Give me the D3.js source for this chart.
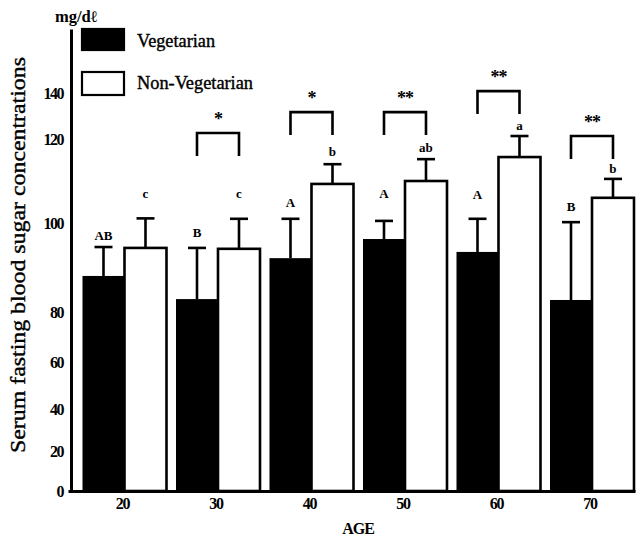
<!DOCTYPE html>
<html>
<head>
<meta charset="utf-8">
<script src="https://cdn.jsdelivr.net/npm/d3@7"></script>
<style>
  body { margin: 0; background: #fff; }
  svg { display: block; }
  text { font-family: "Liberation Serif", "Times New Roman", serif; fill: #000; }
</style>
</head>
<body>
<svg id="chart" width="638" height="539"></svg>
<script>
// Serum fasting blood sugar (mg/dl) by age group, mean + SD
const ages = ["20", "30", "40", "50", "60", "70"];
const groups = ["Vegetarian", "Non-Vegetarian"];
const vegMean = [88.1, 82.9, 92.1, 96.4, 93.5, 82.7];
const vegSD = [6.5, 11.5, 8.9, 4.1, 7.5, 17.5];
const nonVegMean = [94.4, 94.2, 109.3, 110.0, 115.7, 106.0];
const nonVegSD = [6.7, 6.8, 4.7, 5.2, 5.6, 4.5];
// Duncan grouping letters and the level (mg/dl) at which they are written
const vegLetters = ["AB", "B", "A", "A", "A", "B"];
const nonVegLetters = ["c", "c", "b", "ab", "a", "b"];
const vegLetterLevel = [97.3, 97.8, 104.8, 107.1, 106.9, 104.0];
const nonVegLetterLevel = [107.1, 107.1, 117.1, 117.9, 126.1, 112.9];
// Significance between diets within each age group
const sigMarks = ["", "*", "*", "**", "**", "**"];
const sigLevel = [null, 122.6, 131.7, 131.7, 140.9, 121.3];
const yTicks = [0, 20, 40, 60, 80, 100, 120, 140];

const svg = d3.select("#chart");

// The printed axis is not evenly spaced, so the scale is piecewise
const y = d3.scaleLinear()
  .domain([0, 20, 40, 60, 80, 100, 120, 140, 170])
  .range([491, 451, 409, 362, 312, 223, 139, 93, 29]);

const x = d3.scaleBand()
  .domain(ages)
  .range([68, 635])
  .paddingInner(0.1016)
  .paddingOuter(0.0829)
  .align(0.935);

const xs = d3.scaleBand().domain(groups).range([0, x.bandwidth()]);

const rows = ages.map((a, i) => ({
  age: a,
  bars: [
    { key: groups[0], mean: vegMean[i], sd: vegSD[i], letter: vegLetters[i], lv: vegLetterLevel[i] },
    { key: groups[1], mean: nonVegMean[i], sd: nonVegSD[i], letter: nonVegLetters[i], lv: nonVegLetterLevel[i] }
  ],
  sig: sigMarks[i],
  sigLv: sigLevel[i]
}));

const g = svg.append("g");

// bars
const grp = g.selectAll("g.age").data(rows).join("g")
  .attr("class", "age")
  .attr("transform", d => `translate(${x(d.age)},0)`);

grp.selectAll("rect.bar").data(d => d.bars).join("rect")
  .attr("class", "bar")
  .attr("x", d => xs(d.key))
  .attr("y", d => y(d.mean))
  .attr("width", xs.bandwidth())
  .attr("height", d => y(0) - y(d.mean))
  .attr("fill", d => d.key === groups[0] ? "#000" : "#fff")
  .attr("stroke", d => d.key === groups[0] ? "none" : "#000")
  .attr("stroke-width", 2.6);

// error bars (upper half)
grp.selectAll("g.err").data(d => d.bars).join("g")
  .attr("class", "err")
  .each(function (d) {
    const cx = xs(d.key) + xs.bandwidth() / 2;
    const s = d3.select(this);
    s.append("line")
      .attr("x1", cx).attr("x2", cx)
      .attr("y1", y(d.mean)).attr("y2", y(d.mean + d.sd))
      .attr("stroke", "#000").attr("stroke-width", 2.6);
    s.append("line")
      .attr("x1", cx - 9).attr("x2", cx + 9)
      .attr("y1", y(d.mean + d.sd)).attr("y2", y(d.mean + d.sd))
      .attr("stroke", "#000").attr("stroke-width", 2.6);
  });

// grouping letters
grp.selectAll("text.letter").data(d => d.bars).join("text")
  .attr("class", "letter")
  .attr("x", d => xs(d.key) + xs.bandwidth() / 2)
  .attr("y", d => y(d.lv))
  .attr("dy", "0.35em")
  .attr("text-anchor", "middle")
  .attr("font-weight", "bold")
  .attr("font-size", 13)
  .text(d => d.letter);

// significance brackets
const sigGrp = grp.filter(d => d.sig !== "");
sigGrp.append("path")
  .attr("d", d => {
    const x0 = xs(groups[0]) + xs.bandwidth() / 2;
    const x1 = xs(groups[1]) + xs.bandwidth() / 2;
    const t = y(d.sigLv);
    return `M${x0},${t + 23}V${t}H${x1}V${t + 23}`;
  })
  .attr("fill", "none")
  .attr("stroke", "#000")
  .attr("stroke-width", 2.6);
sigGrp.append("text")
  .attr("x", x.bandwidth() / 2)
  .attr("y", d => y(d.sigLv) - 8)
  .attr("text-anchor", "middle")
  .attr("font-weight", "bold")
  .attr("font-size", 18)
  .attr("letter-spacing", "-1px")
  .text(d => d.sig);

// x axis
const xAxis = g.append("g")
  .attr("transform", `translate(0,${y(0)})`)
  .call(d3.axisBottom(x).tickSize(0).tickSizeOuter(0).tickPadding(7));
xAxis.select(".domain").attr("stroke", "#000").attr("stroke-width", 3);
xAxis.selectAll(".tick text")
  .attr("dx", -2)
  .attr("font-size", 16)
  .attr("font-weight", "bold")
  .attr("letter-spacing", "-1.2px");
xAxis.attr("font-family", null);

// y axis
const yAxis = g.append("g")
  .attr("transform", "translate(71,0)")
  .call(d3.axisLeft(y).tickValues(yTicks).tickSize(0).tickSizeOuter(0).tickPadding(8));
yAxis.select(".domain").attr("stroke", "#000").attr("stroke-width", 3);
yAxis.selectAll(".tick text")
  .attr("font-size", 16)
  .attr("font-weight", "bold")
  .attr("letter-spacing", "-1.5px");
yAxis.attr("font-family", null);

// axis titles
svg.append("text")
  .attr("x", 358).attr("y", 534)
  .attr("text-anchor", "middle")
  .attr("font-size", 16)
  .attr("font-weight", "bold")
  .attr("letter-spacing", "-1px")
  .text("AGE");

svg.append("text")
  .attr("transform", "translate(25,255) rotate(-90)")
  .attr("text-anchor", "middle")
  .attr("font-size", 22)
  .attr("stroke", "#000")
  .attr("stroke-width", 0.4)
  .attr("textLength", 396)
  .attr("lengthAdjust", "spacingAndGlyphs")
  .text("Serum fasting blood sugar concentrations");

svg.append("text")
  .attr("x", 55).attr("y", 22)
  .attr("font-size", 16)
  .attr("font-weight", "bold")
  .attr("textLength", 42)
  .attr("lengthAdjust", "spacingAndGlyphs")
  .text("mg/d\u2113");

// legend
const legend = svg.append("g");
const legendItems = [
  { key: groups[0], y: 29, h: 21, fill: "#000", tl: 78, ty: 47 },
  { key: groups[1], y: 72, h: 23, fill: "#fff", tl: 116, ty: 89 }
];
legend.selectAll("rect").data(legendItems).join("rect")
  .attr("x", 82).attr("y", d => d.y)
  .attr("width", 42).attr("height", d => d.h)
  .attr("fill", d => d.fill)
  .attr("stroke", "#000").attr("stroke-width", 2.2);
legend.selectAll("text").data(legendItems).join("text")
  .attr("x", 137).attr("y", d => d.ty)
  .attr("font-size", 19)
  .attr("stroke", "#000")
  .attr("stroke-width", 0.4)
  .attr("textLength", d => d.tl)
  .attr("lengthAdjust", "spacingAndGlyphs")
  .text(d => d.key);
</script>
</body>
</html>
